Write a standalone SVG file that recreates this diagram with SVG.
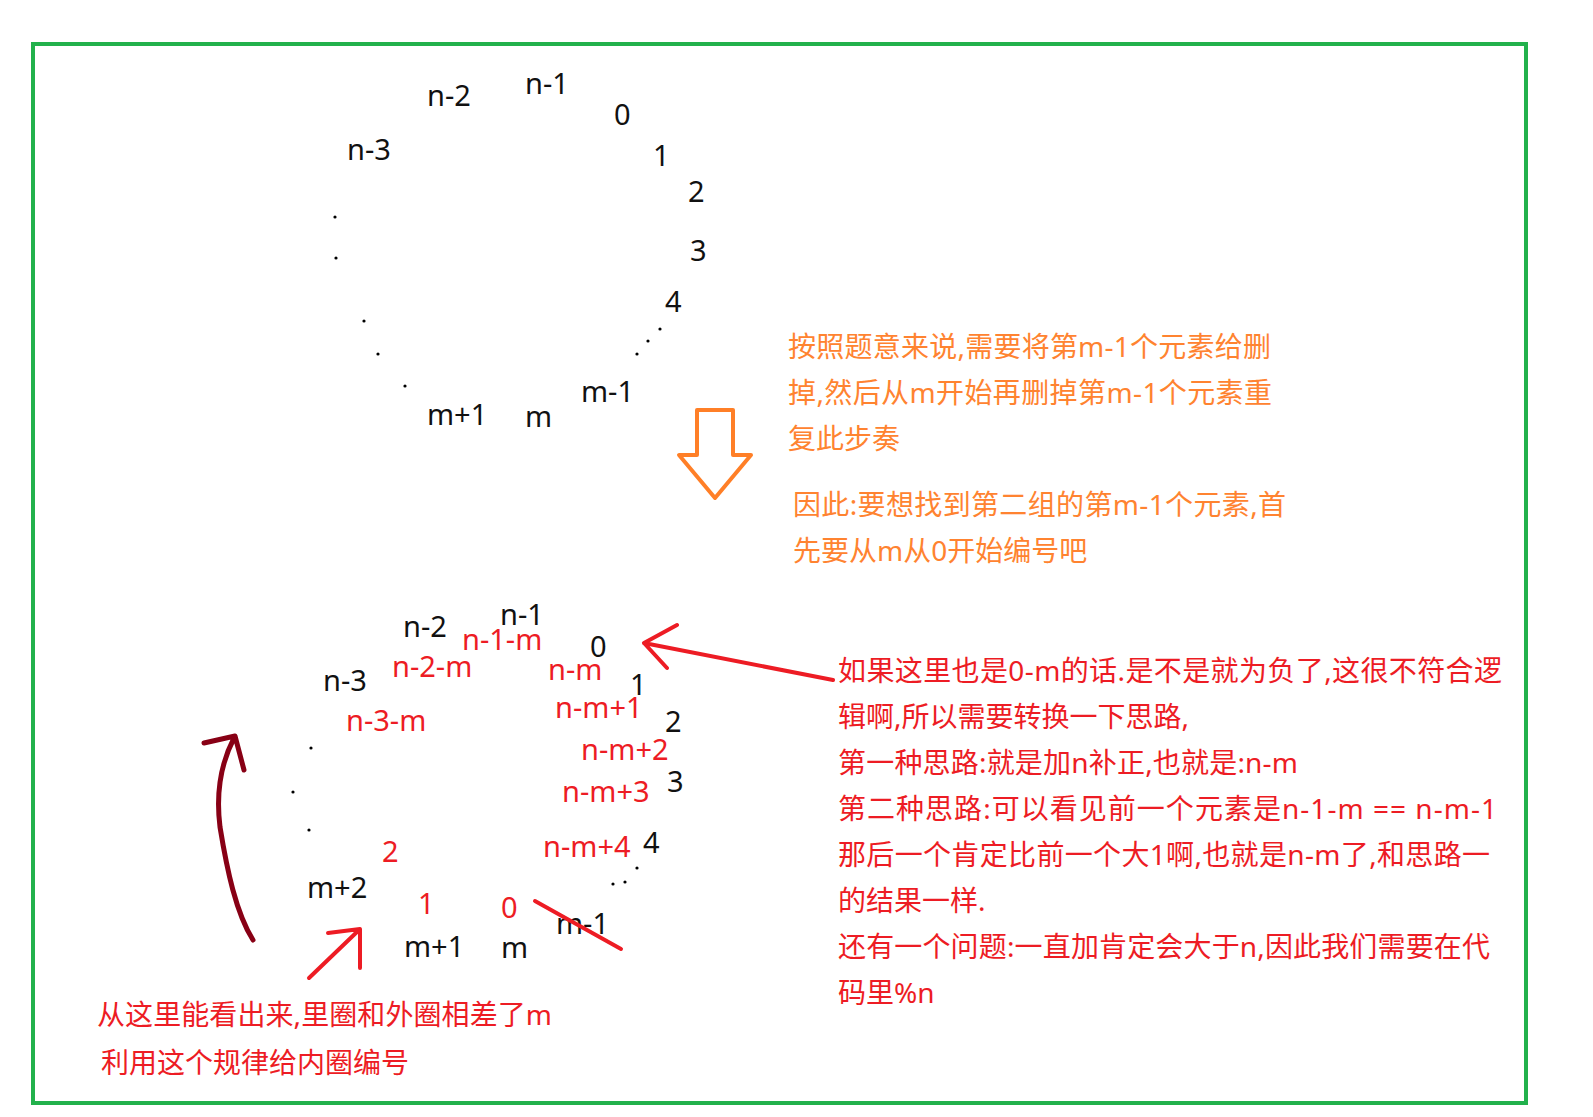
<svg xmlns="http://www.w3.org/2000/svg" width="1593" height="1117" viewBox="0 0 1593 1117">
<style>
text{font-family:"Noto Sans","Noto Sans CJK SC",sans-serif;font-size:29px}
.k{fill:#111}
.r{fill:#ed1c24}
.o{fill:#ff8330;font-size:28px}
.t{fill:#ed1c24;font-size:28px}
.dot{fill:#000}
</style>
<rect x="33" y="44" width="1493" height="1059" fill="#fff" stroke="#22b14c" stroke-width="4"/>
<g id="outer-ring">
<text class="k" x="427" y="106">n-2</text>
<text class="k" x="525" y="94">n-1</text>
<text class="k" x="614" y="125">0</text>
<text class="k" x="653" y="166">1</text>
<text class="k" x="688" y="202">2</text>
<text class="k" x="690" y="261">3</text>
<text class="k" x="665" y="312">4</text>
<text class="k" x="347" y="160">n-3</text>
<text class="k" x="581" y="402">m-1</text>
<text class="k" x="427" y="425">m+1</text>
<text class="k" x="525" y="427">m</text>
<circle class="dot" cx="335" cy="217" r="1.6"/>
<circle class="dot" cx="336" cy="258" r="1.6"/>
<circle class="dot" cx="364" cy="321" r="1.6"/>
<circle class="dot" cx="378" cy="354" r="1.6"/>
<circle class="dot" cx="405" cy="386" r="1.6"/>
<circle class="dot" cx="660" cy="329" r="1.6"/>
<circle class="dot" cx="648" cy="341" r="1.6"/>
<circle class="dot" cx="637" cy="354" r="1.6"/>
</g>
<g id="note-orange">
<text class="o" x="788" y="357" textLength="483">按照题意来说,需要将第m-1个元素给删</text>
<text class="o" x="788" y="403" textLength="484">掉,然后从m开始再删掉第m-1个元素重</text>
<text class="o" x="788" y="449">复此步奏</text>
<text class="o" x="793" y="515" textLength="493">因此:要想找到第二组的第m-1个元素,首</text>
<text class="o" x="793" y="561">先要从m从0开始编号吧</text>
</g>
<g id="inner-ring">
<text class="k" x="500" y="625">n-1</text>
<text class="k" x="403" y="637">n-2</text>
<text class="r" x="462" y="650">n-1-m</text>
<text class="k" x="590" y="657">0</text>
<text class="r" x="392" y="677">n-2-m</text>
<text class="r" x="548" y="680">n-m</text>
<text class="k" x="323" y="691">n-3</text>
<text class="k" x="630" y="695">1</text>
<text class="r" x="555" y="718">n-m+1</text>
<text class="r" x="346" y="731">n-3-m</text>
<text class="k" x="665" y="732">2</text>
<text class="r" x="581" y="760">n-m+2</text>
<text class="k" x="667" y="792">3</text>
<text class="r" x="562" y="802">n-m+3</text>
<text class="r" x="382" y="862">2</text>
<text class="r" x="543" y="857">n-m+4</text>
<text class="k" x="643" y="853">4</text>
<text class="k" x="307" y="898">m+2</text>
<text class="r" x="418" y="914">1</text>
<text class="r" x="501" y="918">0</text>
<text class="k" x="556" y="934">m-1</text>
<text class="k" x="404" y="957">m+1</text>
<text class="k" x="501" y="958">m</text>
<circle class="dot" cx="311" cy="748" r="1.6"/>
<circle class="dot" cx="293" cy="792" r="1.6"/>
<circle class="dot" cx="309" cy="830" r="1.6"/>
<circle class="dot" cx="637" cy="868" r="1.6"/>
<circle class="dot" cx="625" cy="882" r="1.6"/>
<circle class="dot" cx="613" cy="884" r="1.6"/>
</g>
<g id="note-right">
<text class="t" x="838" y="681" textLength="664">如果这里也是0-m的话.是不是就为负了,这很不符合逻</text>
<text class="t" x="838" y="727" textLength="351">辑啊,所以需要转换一下思路,</text>
<text class="t" x="838" y="773" textLength="460">第一种思路:就是加n补正,也就是:n-m</text>
<text class="t" x="838" y="819" textLength="659">第二种思路:可以看见前一个元素是n-1-m == n-m-1</text>
<text class="t" x="838" y="865" textLength="652">那后一个肯定比前一个大1啊,也就是n-m了,和思路一</text>
<text class="t" x="838" y="911">的结果一样.</text>
<text class="t" x="838" y="957" textLength="652">还有一个问题:一直加肯定会大于n,因此我们需要在代</text>
<text class="t" x="838" y="1003">码里%n</text>
</g>
<g id="note-bottom">
<text class="t" x="97" y="1025" textLength="455">从这里能看出来,里圈和外圈相差了m</text>
<text class="t" x="101" y="1073">利用这个规律给内圈编号</text>
</g>
<g id="connectors" fill="none" stroke-linecap="round" stroke-linejoin="round">
<path d="M697 410 H733 V455 H751 L715 498 L679 455 H697 Z" stroke="#ff7f27" stroke-width="4"/>
<path d="M833 680 L644 643 M677 625 L644 643 L667 668" stroke="#ed1c24" stroke-width="4"/>
<path d="M535 901 L621 949" stroke="#ed1c24" stroke-width="4"/>
<path d="M309 978 L359 930 M328 933 L360 929 L360 968" stroke="#ed1c24" stroke-width="4"/>
<path d="M253 940 C236 913 227 870 220 827 C216 795 220 765 234 738 M204 743 L235 736 L244 770" stroke="#880015" stroke-width="5"/>
</g>
</svg>
